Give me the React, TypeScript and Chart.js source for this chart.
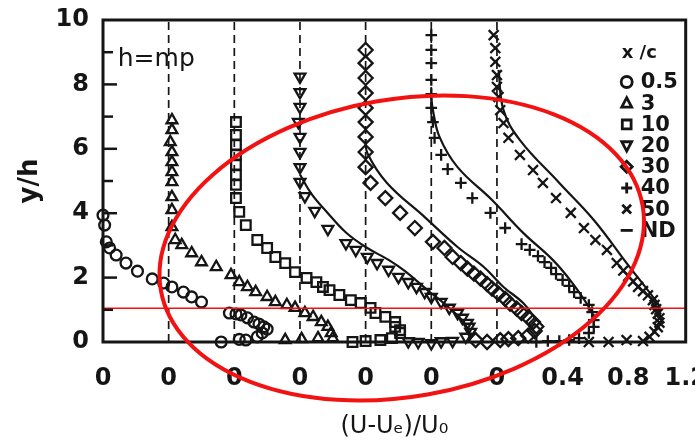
import React, { useEffect, useRef } from 'react';
import { Chart, registerables } from 'chart.js';

Chart.register(...registerables);

const INK = '#151515';
const RED = '#f21212';
const FONT = '"DejaVu Sans", sans-serif';

// horizontal offset of each profile origin (dashed lines), in axis units
const PROFILE_OFFSETS = [0, 0.4, 0.8, 1.2, 1.6, 2.0, 2.4];
const LEGEND_TITLE = 'x /c';
const LEGEND_LABELS = ['0.5', '3', '10', '20', '30', '40', '50', 'ND'];
const X_TICK_VALUES = [0, 0.4, 0.8, 1.2, 1.6, 2.0, 2.4, 2.8, 3.2, 3.55];
const X_TICK_LABELS = ['0', '0', '0', '0', '0', '0', '0', '0.4', '0.8', '1.2'];
const X_MAX = 3.55;
const Y_MAX = 10;
const X_TITLE = '(U-Uₑ)/U₀';
const Y_TITLE = 'y/h';
const NOTE_TEXT = 'h=mp';
const RED_LINE_Y = 1.05;

// x/c = 0.5 (circles)
const XC05_U = [0.00, 0.01, 0.02, 0.04, 0.08, 0.14, 0.21, 0.30, 0.37, 0.42, 0.49, 0.54, 0.60, 0.77, 0.81, 0.84, 0.88, 0.92, 0.95, 0.98, 1.00, 0.97, 0.94, 0.87, 0.83, 0.72];
const XC05_Y = [3.94, 3.63, 3.11, 2.92, 2.70, 2.45, 2.20, 1.96, 1.83, 1.71, 1.55, 1.40, 1.24, 0.90, 0.87, 0.84, 0.75, 0.62, 0.56, 0.47, 0.40, 0.28, 0.16, 0.06, 0.08, 0.00];
// x/c = 3 (triangles)
const XC3_U = [0.02, 0.02, 0.01, 0.02, 0.02, 0.02, 0.02, 0.02, 0.02, 0.02, 0.04, 0.08, 0.14, 0.20, 0.29, 0.38, 0.43, 0.48, 0.53, 0.60, 0.65, 0.72, 0.77, 0.83, 0.88, 0.93, 0.97, 0.99, 1.00, 0.91, 0.81, 0.71];
const XC3_Y = [6.89, 6.58, 6.21, 5.90, 5.59, 5.28, 4.97, 4.50, 4.10, 3.57, 3.17, 3.01, 2.76, 2.48, 2.33, 2.08, 1.86, 1.71, 1.55, 1.40, 1.24, 1.15, 1.06, 0.90, 0.78, 0.62, 0.47, 0.28, 0.12, 0.12, 0.09, 0.06];
// x/c = 10 (squares)
const XC10_U = [0.01, 0.01, 0.01, 0.01, 0.01, 0.01, 0.01, 0.01, 0.03, 0.07, 0.14, 0.20, 0.25, 0.31, 0.37, 0.44, 0.50, 0.54, 0.58, 0.64, 0.71, 0.77, 0.83, 0.86, 0.92, 0.98, 0.98, 1.01, 1.01, 0.96, 0.89, 0.80, 0.72];
const XC10_Y = [6.83, 6.43, 6.12, 5.81, 5.50, 5.19, 4.88, 4.47, 4.04, 3.63, 3.17, 2.92, 2.64, 2.45, 2.17, 1.99, 1.86, 1.71, 1.61, 1.46, 1.30, 1.21, 1.06, 0.90, 0.78, 0.62, 0.47, 0.37, 0.28, 0.12, 0.06, 0.03, 0.00];
// x/c = 20 (down triangles)
const XC20_U = [0.00, 0.00, 0.00, -0.01, 0.00, 0.00, 0.00, 0.00, 0.03, 0.09, 0.17, 0.28, 0.34, 0.41, 0.47, 0.54, 0.60, 0.66, 0.71, 0.76, 0.80, 0.86, 0.91, 0.96, 0.99, 1.02, 1.03, 1.04, 1.01, 0.93, 0.86, 0.80, 0.72, 0.66];
const XC20_Y = [8.24, 7.76, 7.30, 6.83, 6.37, 5.90, 5.43, 4.97, 4.53, 4.07, 3.51, 3.07, 2.86, 2.64, 2.45, 2.24, 2.02, 1.86, 1.71, 1.55, 1.40, 1.24, 1.06, 0.90, 0.75, 0.59, 0.47, 0.31, 0.16, 0.03, 0.02, -0.04, 0.00, 0.02];
// x/c = 30 (diamonds)
const XC30_U = [0, 0, 0, 0, 0, 0, 0, 0, 0, 0.03, 0.12, 0.21, 0.30, 0.41, 0.48, 0.53, 0.58, 0.62, 0.66, 0.70, 0.74, 0.77, 0.81, 0.85, 0.88, 0.92, 0.95, 0.99, 1.02, 1.04, 1.03, 0.99, 0.93, 0.87, 0.82, 0.74, 0.67];
const XC30_Y = [9.07, 8.66, 8.20, 7.73, 7.27, 6.83, 6.37, 5.90, 5.43, 4.94, 4.47, 4.01, 3.54, 3.11, 2.92, 2.64, 2.45, 2.28, 2.12, 1.97, 1.80, 1.66, 1.50, 1.34, 1.19, 1.04, 0.90, 0.76, 0.62, 0.48, 0.34, 0.20, 0.12, 0.09, 0.06, 0.00, 0.06];
// x/c = 40 (plus)
const XC40_U = [0, 0, 0, 0, 0, 0, 0.01, 0.02, 0.06, 0.10, 0.18, 0.25, 0.36, 0.45, 0.55, 0.60, 0.65, 0.69, 0.73, 0.76, 0.80, 0.84, 0.87, 0.91, 0.96, 0.98, 0.99, 0.99, 0.96, 0.90, 0.84, 0.78, 0.71, 0.64];
const XC40_Y = [9.53, 9.07, 8.66, 8.14, 7.70, 7.27, 6.83, 6.34, 5.81, 5.37, 4.94, 4.47, 4.01, 3.54, 3.04, 2.86, 2.67, 2.48, 2.30, 2.11, 1.93, 1.74, 1.55, 1.37, 1.15, 0.93, 0.68, 0.47, 0.28, 0.12, 0.06, 0.03, 0.03, 0.00];
// x/c = 50 (crosses)
const XC50_U = [-0.02, -0.01, -0.01, 0, 0, 0.01, 0.02, 0.04, 0.07, 0.14, 0.22, 0.28, 0.36, 0.45, 0.53, 0.60, 0.67, 0.73, 0.77, 0.80, 0.83, 0.86, 0.89, 0.92, 0.95, 0.96, 0.97, 0.98, 0.99, 0.99, 0.98, 0.96, 0.93, 0.89, 0.79, 0.68, 0.56];
const XC50_Y = [9.53, 9.13, 8.70, 8.29, 7.92, 7.61, 7.20, 6.80, 6.34, 5.81, 5.34, 4.94, 4.47, 4.01, 3.54, 3.17, 2.86, 2.45, 2.22, 2.05, 1.88, 1.71, 1.58, 1.45, 1.30, 1.15, 1.02, 0.88, 0.74, 0.60, 0.46, 0.32, 0.16, 0.03, 0.06, 0.00, 0.00];

// ND solid curves (profiles x/c = 20, 30, 40, 50)
const ND20_U = [0.00, 0.07, 0.17, 0.28, 0.40, 0.54, 0.64, 0.78, 0.90, 1.00, 1.03];
const ND20_Y = [5.20, 4.60, 4.00, 3.40, 2.95, 2.55, 2.20, 1.60, 1.10, 0.60, 0.30];
const ND30_U = [0.00, 0.01, 0.13, 0.36, 0.56, 0.72, 0.84, 0.96, 1.04];
const ND30_Y = [6.30, 5.87, 4.94, 3.88, 2.95, 2.33, 1.71, 1.21, 0.68];
const ND40_U = [0.00, 0.01, 0.05, 0.16, 0.37, 0.56, 0.74, 0.86, 0.96, 0.99];
const ND40_Y = [7.60, 7.20, 6.37, 5.43, 4.41, 3.39, 2.55, 1.83, 1.09, 0.78];
const ND50_U = [0.01, 0.04, 0.14, 0.38, 0.59, 0.79, 0.95, 0.99, 0.99];
const ND50_Y = [8.45, 7.20, 6.27, 4.94, 3.79, 2.45, 1.40, 1.09, 0.68];

// red hand-drawn ellipse annotation (centre in data units, radii in axis units, tilt in degrees)
const ELLIPSE_CENTER = [1.82, 2.92];
const ELLIPSE_RADII = [1.49, 4.62];
const ELLIPSE_TILT = -10;

const SERIES = [
  { u: XC05_U, y: XC05_Y, style: 'circle', r: 5.4, rot: 0 },
  { u: XC3_U, y: XC3_Y, style: 'triangle', r: 6.2, rot: 0 },
  { u: XC10_U, y: XC10_Y, style: 'rect', r: 6.8, rot: 0 },
  { u: XC20_U, y: XC20_Y, style: 'triangle', r: 6.2, rot: 180 },
  { u: XC30_U, y: XC30_Y, style: 'rectRot', r: 7, rot: 0 },
  { u: XC40_U, y: XC40_Y, style: 'cross', r: 5.8, rot: 0 },
  { u: XC50_U, y: XC50_Y, style: 'crossRot', r: 7, rot: 0 },
];
const ND_CURVES = [
  { u: ND20_U, y: ND20_Y, profile: 3 },
  { u: ND30_U, y: ND30_Y, profile: 4 },
  { u: ND40_U, y: ND40_Y, profile: 5 },
  { u: ND50_U, y: ND50_Y, profile: 6 },
];

const toPoints = (us: number[], ys: number[], off: number) =>
  us.map((u, i) => ({ x: u + off, y: ys[i] }));

function drawSymbol(ctx: CanvasRenderingContext2D, kind: number, x: number, y: number, r: number) {
  ctx.beginPath();
  switch (kind) {
    case 0: ctx.arc(x, y, r, 0, Math.PI * 2); break;
    case 1: ctx.moveTo(x, y - r); ctx.lineTo(x + r * 0.9, y + r * 0.7); ctx.lineTo(x - r * 0.9, y + r * 0.7); ctx.closePath(); break;
    case 2: ctx.rect(x - r * 0.8, y - r * 0.8, r * 1.6, r * 1.6); break;
    case 3: ctx.moveTo(x, y + r); ctx.lineTo(x + r * 0.9, y - r * 0.7); ctx.lineTo(x - r * 0.9, y - r * 0.7); ctx.closePath(); break;
    case 4: ctx.moveTo(x, y - r); ctx.lineTo(x + r, y); ctx.lineTo(x, y + r); ctx.lineTo(x - r, y); ctx.closePath(); break;
    case 5: ctx.moveTo(x - r, y); ctx.lineTo(x + r, y); ctx.moveTo(x, y - r); ctx.lineTo(x, y + r); break;
    case 6: ctx.moveTo(x - r * 0.8, y - r * 0.8); ctx.lineTo(x + r * 0.8, y + r * 0.8); ctx.moveTo(x + r * 0.8, y - r * 0.8); ctx.lineTo(x - r * 0.8, y + r * 0.8); break;
    default: ctx.moveTo(x - r * 1.1, y); ctx.lineTo(x + r * 1.1, y); break;
  }
  ctx.stroke();
}

const decorPlugin = {
  id: 'decor',
  afterDatasetsDraw(chart: any) {
    const { ctx, chartArea: ca, scales } = chart;
    const xs = scales.x;
    const ys = scales.y;
    ctx.save();
    ctx.strokeStyle = INK;
    ctx.fillStyle = INK;
    // frame
    ctx.lineWidth = 3;
    ctx.strokeRect(ca.left, ca.top, ca.right - ca.left, ca.bottom - ca.top);
    // inward ticks on the y axis
    ctx.lineWidth = 2.5;
    for (let v = 1; v < Y_MAX; v++) {
      const py = ys.getPixelForValue(v);
      const len = v % 2 === 0 ? 14 : 10;
      ctx.beginPath();
      ctx.moveTo(ca.left, py);
      ctx.lineTo(ca.left + len, py);
      ctx.stroke();
    }
    // note text
    ctx.font = `25px ${FONT}`;
    ctx.textBaseline = 'middle';
    ctx.textAlign = 'left';
    ctx.fillText(NOTE_TEXT, xs.getPixelForValue(0.09), ys.getPixelForValue(8.76));
    // legend
    const lx = ca.right - 59;
    const tx = ca.right - 45;
    ctx.font = `bold 18px ${FONT}`;
    ctx.fillText(LEGEND_TITLE, ca.right - 64, ca.top + 33);
    ctx.lineWidth = 2.8;
    LEGEND_LABELS.forEach((lab, i) => {
      const py = ca.top + 62 + i * 21.2;
      drawSymbol(ctx, i, lx, py, 5.5);
      ctx.font = `bold 21px ${FONT}`;
      ctx.fillText(lab, tx, py + 1);
    });
    // red ellipse
    const cx = xs.getPixelForValue(ELLIPSE_CENTER[0]);
    const cy = ys.getPixelForValue(ELLIPSE_CENTER[1]);
    const rx = Math.abs(xs.getPixelForValue(ELLIPSE_RADII[0]) - xs.getPixelForValue(0));
    const ry = Math.abs(ys.getPixelForValue(ELLIPSE_RADII[1]) - ys.getPixelForValue(0));
    ctx.strokeStyle = RED;
    ctx.lineWidth = 4;
    ctx.beginPath();
    ctx.ellipse(cx, cy, rx, ry, (ELLIPSE_TILT * Math.PI) / 180, 0, Math.PI * 2);
    ctx.stroke();
    ctx.restore();
  },
};

export default function App() {
  const ref = useRef<HTMLCanvasElement | null>(null);
  useEffect(() => {
    if (!ref.current) return;
    const datasets: any[] = [];
    datasets.push({
      type: 'line',
      data: [{ x: 0, y: RED_LINE_Y }, { x: X_MAX, y: RED_LINE_Y }],
      borderColor: RED,
      borderWidth: 1.5,
      pointRadius: 0,
      showLine: true,
      clip: false,
    });
    SERIES.forEach((s, i) => {
      datasets.push({
        type: 'scatter',
        data: toPoints(s.u, s.y, PROFILE_OFFSETS[i]),
        pointStyle: s.style,
        pointRadius: s.r,
        pointRotation: s.rot,
        pointBorderColor: INK,
        pointBackgroundColor: 'rgba(0,0,0,0)',
        pointBorderWidth: 2.3,
        borderColor: INK,
        backgroundColor: 'rgba(0,0,0,0)',
        showLine: false,
        clip: false,
      });
    });
    ND_CURVES.forEach((c) => {
      datasets.push({
        type: 'line',
        data: toPoints(c.u, c.y, PROFILE_OFFSETS[c.profile]),
        borderColor: INK,
        borderWidth: 2.2,
        pointRadius: 0,
        tension: 0.4,
        showLine: true,
        fill: false,
      });
    });
    PROFILE_OFFSETS.slice(1).forEach((off) => {
      datasets.push({
        type: 'line',
        data: [{ x: off, y: 0 }, { x: off, y: Y_MAX }],
        borderColor: INK,
        borderWidth: 1.7,
        borderDash: [8, 5],
        pointRadius: 0,
        showLine: true,
        fill: false,
      });
    });

    const chart = new Chart(ref.current, {
      type: 'scatter',
      data: { datasets },
      options: {
        animation: false,
        responsive: false,
        devicePixelRatio: 1,
        layout: { padding: { top: 20, right: 4, left: 0, bottom: 0 } },
        plugins: { legend: { display: false }, tooltip: { enabled: false } },
        scales: {
          x: {
            type: 'linear',
            min: 0,
            max: X_MAX,
            grid: { display: false, drawTicks: false },
            border: { display: false },
            afterBuildTicks: (s: any) => {
              s.ticks = X_TICK_VALUES.map((v) => ({ value: v }));
            },
            afterFit: (s: any) => {
              s.height = 99;
              s.paddingLeft = 0;
              s.paddingRight = 0;
            },
            ticks: {
              autoSkip: false,
              maxRotation: 0,
              padding: 22,
              color: INK,
              font: { family: FONT, size: 24, weight: 'bold' },
              callback: (_v: any, i: number) => X_TICK_LABELS[i],
            },
            title: {
              display: true,
              text: X_TITLE,
              color: INK,
              font: { family: FONT, size: 24 },
              padding: { top: 0, bottom: 0 },
            },
          },
          y: {
            type: 'linear',
            min: 0,
            max: Y_MAX,
            grid: { display: false, drawTicks: false },
            border: { display: false },
            afterFit: (s: any) => {
              s.width = 103;
              s.paddingTop = 0;
              s.paddingBottom = 0;
            },
            ticks: {
              stepSize: 2,
              padding: 14,
              color: INK,
              font: { family: FONT, size: 24, weight: 'bold' },
            },
            title: {
              display: true,
              text: Y_TITLE,
              color: INK,
              font: { family: FONT, size: 26, weight: 'bold' },
              padding: { top: 15, bottom: 0 },
            },
          },
        },
      },
      plugins: [decorPlugin],
    } as any);
    return () => chart.destroy();
  }, []);

  return (
    <div style={{ position: 'fixed', left: 0, top: 0, width: 695, height: 441, background: '#fff' }}>
      <canvas ref={ref} width={695} height={441} />
    </div>
  );
}
